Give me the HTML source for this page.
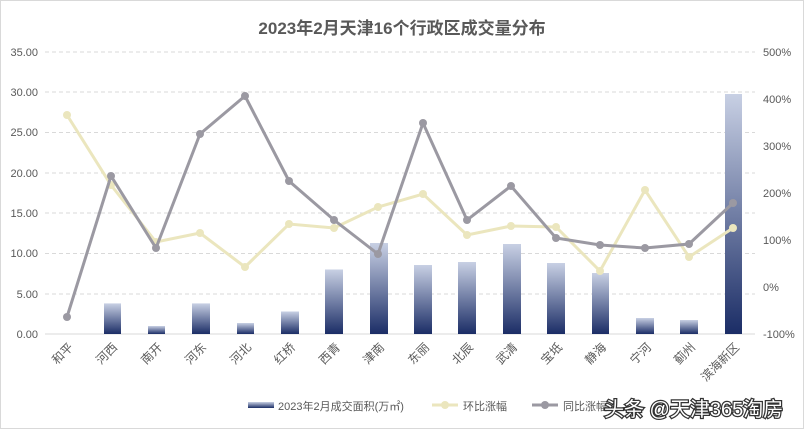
<!DOCTYPE html>
<html><head><meta charset="utf-8"><style>
body{margin:0;width:804px;height:429px;background:#fff;overflow:hidden}
text{font-family:"Liberation Sans","Noto Sans CJK SC",sans-serif}
</style></head><body>
<svg width="804" height="429" viewBox="0 0 804 429" xmlns="http://www.w3.org/2000/svg">
<defs><linearGradient id="g" x1="0" y1="0" x2="0" y2="1"><stop offset="0" stop-color="#c8d0e4"/><stop offset="1" stop-color="#1b2d66"/></linearGradient></defs>
<rect x="0.5" y="0.5" width="803" height="428" fill="#fff" stroke="#d9d9d9"/>
<text x="402" y="34" text-anchor="middle" font-size="17" font-weight="bold" fill="#595959">2023年2月天津16个行政区成交量分布</text>
<g stroke="#d9d9d9" stroke-dasharray="4,3" stroke-width="1">
<line x1="45" x2="755" y1="52" y2="52"/><line x1="45" x2="755" y1="92" y2="92"/><line x1="45" x2="755" y1="132.5" y2="132.5"/><line x1="45" x2="755" y1="173" y2="173"/><line x1="45" x2="755" y1="213" y2="213"/><line x1="45" x2="755" y1="253.5" y2="253.5"/><line x1="45" x2="755" y1="294" y2="294"/></g>
<line x1="45" x2="755" y1="334" y2="334" stroke="#d9d9d9"/>
<g font-size="11" fill="#595959" text-anchor="end">
<text x="38" y="56">35.00</text><text x="38" y="96">30.00</text><text x="38" y="136">25.00</text><text x="38" y="177">20.00</text><text x="38" y="217">15.00</text><text x="38" y="257">10.00</text><text x="38" y="298">5.00</text><text x="38" y="338">0.00</text></g>
<g font-size="11" fill="#595959">
<text x="763" y="56">500%</text><text x="763" y="103">400%</text><text x="763" y="150">300%</text><text x="763" y="197">200%</text><text x="763" y="244">100%</text><text x="763" y="291">0%</text><text x="763" y="338">-100%</text></g>
<g fill="url(#g)">
<rect x="104" y="303.4" width="17" height="30.6"/><rect x="148" y="326" width="17" height="8"/><rect x="192" y="303.4" width="18" height="30.6"/><rect x="237" y="323" width="17" height="11"/><rect x="281" y="311.5" width="18" height="22.5"/><rect x="325" y="269.5" width="18" height="64.5"/><rect x="370" y="243" width="18" height="91"/><rect x="414" y="265" width="18" height="69"/><rect x="458" y="262" width="18" height="72"/><rect x="503" y="244" width="18" height="90"/><rect x="547" y="263" width="18" height="71"/><rect x="592" y="273" width="17" height="61"/><rect x="636" y="318" width="18" height="16"/><rect x="680" y="320" width="18" height="14"/><rect x="725" y="94" width="17" height="240"/></g>
<polyline fill="none" stroke="#ebe6be" stroke-width="3" points="67,115 111,185 156,242 200,233 245,267 289,224 334,228 378,207 423,194 467,235 511,226 556,227 600,271 645,190 689,257 733,228"/>
<g fill="#ebe6be"><circle cx="67" cy="115" r="4"/><circle cx="111" cy="185" r="4"/><circle cx="156" cy="242" r="4"/><circle cx="200" cy="233" r="4"/><circle cx="245" cy="267" r="4"/><circle cx="289" cy="224" r="4"/><circle cx="334" cy="228" r="4"/><circle cx="378" cy="207" r="4"/><circle cx="423" cy="194" r="4"/><circle cx="467" cy="235" r="4"/><circle cx="511" cy="226" r="4"/><circle cx="556" cy="227" r="4"/><circle cx="600" cy="271" r="4"/><circle cx="645" cy="190" r="4"/><circle cx="689" cy="257" r="4"/><circle cx="733" cy="228" r="4"/></g>
<polyline fill="none" stroke="#9b99a2" stroke-width="3" points="67,317 111,176 156,248 200,134 245,96 289,181 334,220 378,254 423,123 467,220 511,186 556,238 600,245 645,248 689,244 733,203"/>
<g fill="#9b99a2"><circle cx="67" cy="317" r="4"/><circle cx="111" cy="176" r="4"/><circle cx="156" cy="248" r="4"/><circle cx="200" cy="134" r="4"/><circle cx="245" cy="96" r="4"/><circle cx="289" cy="181" r="4"/><circle cx="334" cy="220" r="4"/><circle cx="378" cy="254" r="4"/><circle cx="423" cy="123" r="4"/><circle cx="467" cy="220" r="4"/><circle cx="511" cy="186" r="4"/><circle cx="556" cy="238" r="4"/><circle cx="600" cy="245" r="4"/><circle cx="645" cy="248" r="4"/><circle cx="689" cy="244" r="4"/><circle cx="733" cy="203" r="4"/></g>
<g font-size="12" fill="#595959" text-anchor="end">
<text transform="translate(74,348) rotate(-45)">和平</text><text transform="translate(118,348) rotate(-45)">河西</text><text transform="translate(163,348) rotate(-45)">南开</text><text transform="translate(207,348) rotate(-45)">河东</text><text transform="translate(252,348) rotate(-45)">河北</text><text transform="translate(296,348) rotate(-45)">红桥</text><text transform="translate(341,348) rotate(-45)">西青</text><text transform="translate(385,348) rotate(-45)">津南</text><text transform="translate(430,348) rotate(-45)">东丽</text><text transform="translate(474,348) rotate(-45)">北辰</text><text transform="translate(518,348) rotate(-45)">武清</text><text transform="translate(563,348) rotate(-45)">宝坻</text><text transform="translate(607,348) rotate(-45)">静海</text><text transform="translate(652,348) rotate(-45)">宁河</text><text transform="translate(696,348) rotate(-45)">蓟州</text><text transform="translate(740,348) rotate(-45)">滨海新区</text></g>
<rect x="248" y="402" width="26" height="6" fill="url(#g)"/>
<text x="278" y="410" font-size="11" fill="#595959">2023年2月成交面积(万㎡)</text>
<line x1="432" x2="458" y1="405" y2="405" stroke="#ebe6be" stroke-width="3"/><circle cx="445" cy="405" r="4" fill="#ebe6be"/>
<text x="463" y="410" font-size="11" fill="#595959">环比涨幅</text>
<line x1="532" x2="558" y1="405" y2="405" stroke="#9b99a2" stroke-width="3"/><circle cx="545" cy="405" r="4" fill="#9b99a2"/>
<text x="563" y="410" font-size="11" fill="#595959">同比涨幅</text>
<text x="604" y="416" font-size="20" fill="#fff" stroke="#333" stroke-width="2.5" paint-order="stroke">头条 @天津365淘房</text>
</svg>
</body></html>
